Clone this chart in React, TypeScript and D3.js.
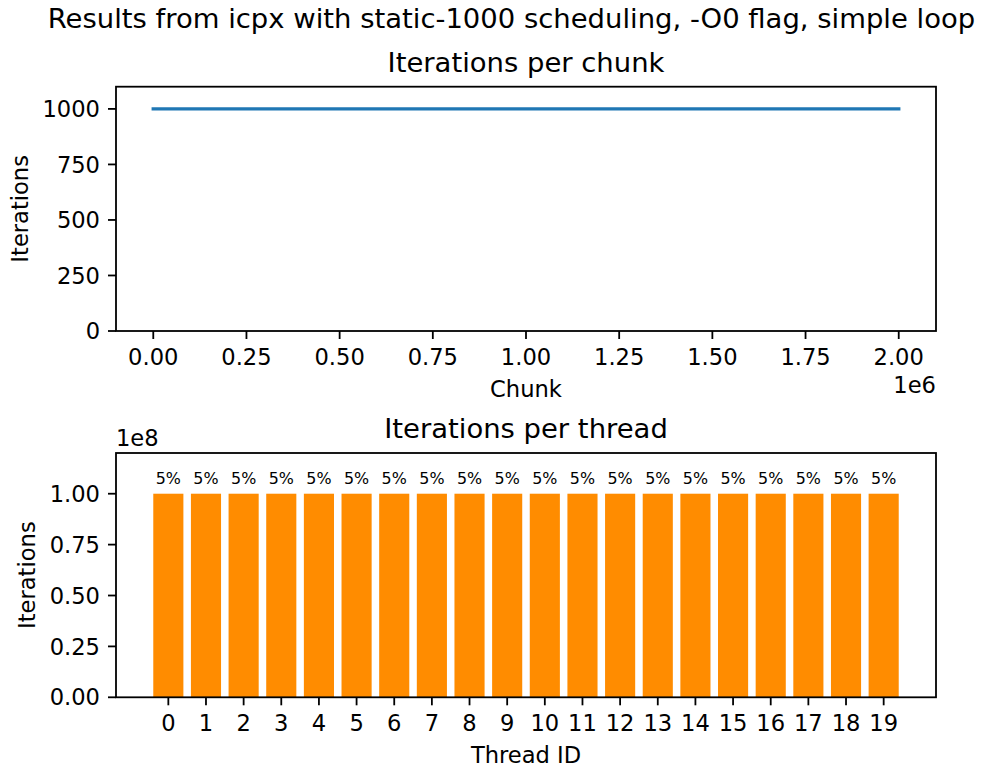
import React from "react";
import * as d3 from "d3";

// ---- data ----
const suptitle = "Results from icpx with static-1000 scheduling, -O0 flag, simple loop";
const chunkIds = [0, 1999999];
const chunkIterations = [1000, 1000];
const chunkTicks = [0, 0.25e6, 0.5e6, 0.75e6, 1.0e6, 1.25e6, 1.5e6, 1.75e6, 2.0e6];
const iterTicks = [0, 250, 500, 750, 1000];

const threadIds = [0, 1, 2, 3, 4, 5, 6, 7, 8, 9, 10, 11, 12, 13, 14, 15, 16, 17, 18, 19];
const threadIterations = [
  1e8, 1e8, 1e8, 1e8, 1e8, 1e8, 1e8, 1e8, 1e8, 1e8,
  1e8, 1e8, 1e8, 1e8, 1e8, 1e8, 1e8, 1e8, 1e8, 1e8,
];
const threadPercents = [
  "5%", "5%", "5%", "5%", "5%", "5%", "5%", "5%", "5%", "5%",
  "5%", "5%", "5%", "5%", "5%", "5%", "5%", "5%", "5%", "5%",
];
const threadYTicks = [0, 0.25e8, 0.5e8, 0.75e8, 1.0e8];

const FONT = "DejaVu Sans, Verdana, sans-serif";
const TICK_FS = 22.6;
const TITLE_FS = 27.45;
const LABEL_FS = 15.9;
const SPINE = 1.8;
const TICK_LEN = 8;

const W = 981;
const H = 767;

const left = 116;
const right = 936;

export default function App() {
  // Top axes
  const t1 = 86.7, b1 = 331;
  const x1 = d3.scaleLinear().domain([-0.1e6, 2.1e6]).range([left, right]);
  const y1 = d3.scaleLinear().domain([0, 1100]).range([b1, t1]);
  const line = d3
    .line<number>()
    .x((_, i) => x1(chunkIds[i]))
    .y((d) => y1(d));

  // Bottom axes
  const t2 = 453, b2 = 697.3;
  const x2 = d3.scaleLinear().domain([-1.39, 20.39]).range([left, right]);
  const y2 = d3.scaleLinear().domain([0, 1.2e8]).range([b2, t2]);
  const barW = x2(0.8) - x2(0);

  const fmt2 = d3.format(".2f");

  return (
    <svg
      width={W}
      height={H}
      style={{ position: "absolute", left: 0, top: 0, background: "#fff" }}
      fontFamily={FONT}
    >
      <rect x={0} y={0} width={W} height={H} fill="#fff" />
      <text x={511.5} y={28.3} fontSize={TITLE_FS} textAnchor="middle" fill="#000">
        {suptitle}
      </text>

      {/* ---------- Top plot ---------- */}
      <text x={(left + right) / 2} y={71.7} fontSize={TITLE_FS} textAnchor="middle">
        Iterations per chunk
      </text>
      <path d={line(chunkIterations) || ""} fill="none" stroke="#1f77b4" strokeWidth={3.4} strokeLinecap="square" />
      <rect x={left} y={t1} width={right - left} height={b1 - t1} fill="none" stroke="#000" strokeWidth={SPINE} />
      {chunkTicks.map((v) => (
        <g key={"xt1" + v}>
          <line x1={x1(v)} x2={x1(v)} y1={b1} y2={b1 + TICK_LEN} stroke="#000" strokeWidth={SPINE} />
          <text x={x1(v)} y={364.5} fontSize={TICK_FS} textAnchor="middle">
            {fmt2(v / 1e6)}
          </text>
        </g>
      ))}
      {iterTicks.map((v) => (
        <g key={"yt1" + v}>
          <line x1={left} x2={left - TICK_LEN} y1={y1(v)} y2={y1(v)} stroke="#000" strokeWidth={SPINE} />
          <text x={left - TICK_LEN - 8} y={y1(v)} dy={0.36 * TICK_FS} fontSize={TICK_FS} textAnchor="end">
            {v}
          </text>
        </g>
      ))}
      <text x={right} y={393.3} fontSize={TICK_FS} textAnchor="end">1e6</text>
      <text x={(left + right) / 2} y={397} fontSize={TICK_FS} textAnchor="middle">Chunk</text>
      <text
        transform={`translate(28.3, ${(t1 + b1) / 2}) rotate(-90)`}
        fontSize={TICK_FS}
        textAnchor="middle"
      >
        Iterations
      </text>

      {/* ---------- Bottom plot ---------- */}
      <text x={(left + right) / 2} y={438} fontSize={TITLE_FS} textAnchor="middle">
        Iterations per thread
      </text>
      {threadIds.map((id, i) => (
        <g key={"bar" + id}>
          <rect
            x={x2(id) - barW / 2}
            y={y2(threadIterations[i])}
            width={barW}
            height={y2(0) - y2(threadIterations[i])}
            fill="#ff8c00"
          />
          <text x={x2(id)} y={y2(threadIterations[i]) - 10} fontSize={LABEL_FS} textAnchor="middle">
            {threadPercents[i]}
          </text>
        </g>
      ))}
      <rect x={left} y={t2} width={right - left} height={b2 - t2} fill="none" stroke="#000" strokeWidth={SPINE} />
      {threadIds.map((id) => (
        <g key={"xt2" + id}>
          <line x1={x2(id)} x2={x2(id)} y1={b2} y2={b2 + TICK_LEN} stroke="#000" strokeWidth={SPINE} />
          <text x={x2(id)} y={731} fontSize={TICK_FS} textAnchor="middle">
            {id}
          </text>
        </g>
      ))}
      {threadYTicks.map((v) => (
        <g key={"yt2" + v}>
          <line x1={left} x2={left - TICK_LEN} y1={y2(v)} y2={y2(v)} stroke="#000" strokeWidth={SPINE} />
          <text x={left - TICK_LEN - 8} y={y2(v)} dy={0.36 * TICK_FS} fontSize={TICK_FS} textAnchor="end">
            {fmt2(v / 1e8)}
          </text>
        </g>
      ))}
      <text x={left} y={446} fontSize={TICK_FS} textAnchor="start">1e8</text>
      <text x={(left + right) / 2} y={763.3} fontSize={TICK_FS} textAnchor="middle">Thread ID</text>
      <text
        transform={`translate(35, ${(t2 + b2) / 2}) rotate(-90)`}
        fontSize={TICK_FS}
        textAnchor="middle"
      >
        Iterations
      </text>
    </svg>
  );
}
